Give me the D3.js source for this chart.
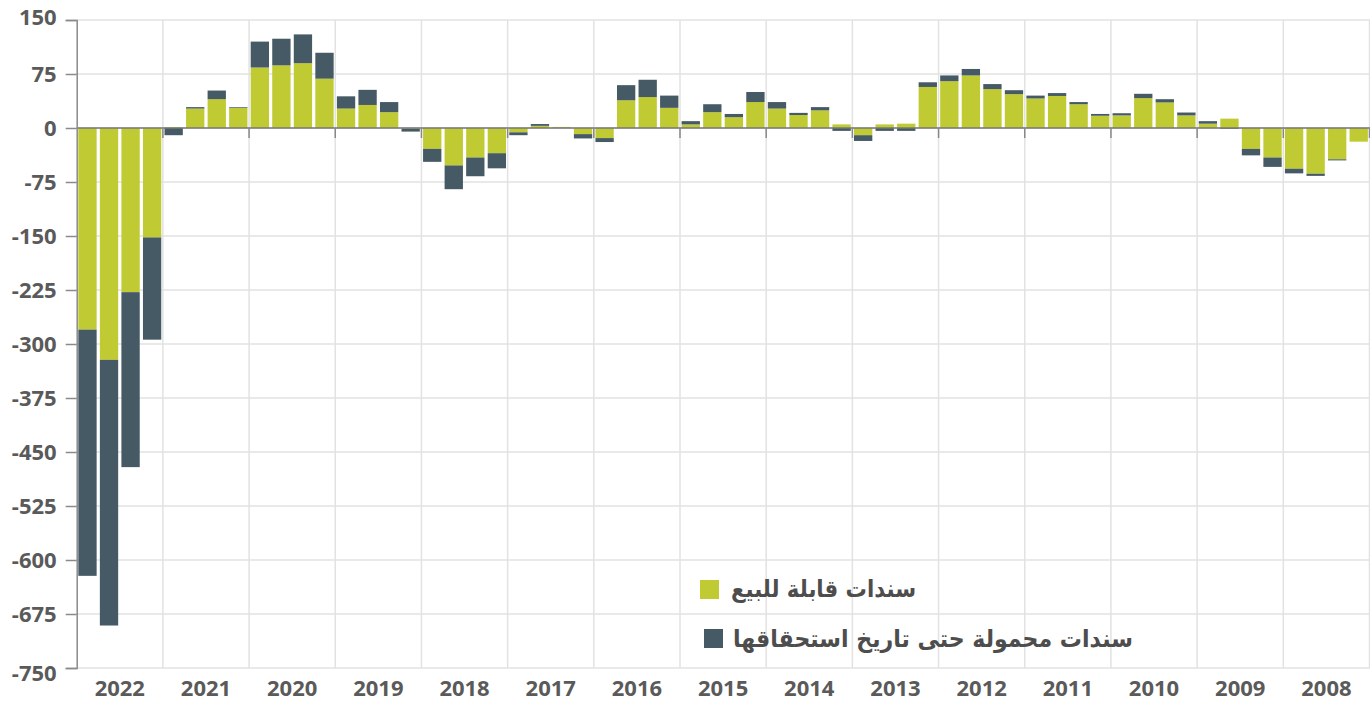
<!DOCTYPE html>
<html>
<head>
<meta charset="utf-8">
<script src="https://cdn.jsdelivr.net/npm/d3@7/dist/d3.min.js"></script>
<style>
  html, body { margin: 0; padding: 0; background: #fff; }
  svg { display: block; }
</style>
</head>
<body>
<svg id="chart" width="1370" height="702"></svg>
<script>
// ---- data ----
const years = ["2022","2021","2020","2019","2018","2017","2016","2015","2014","2013","2012","2011","2010","2009","2008"];
const quarters = ["a","b","c","d"];
// available for sale (green), left to right
const afs = [-280,-322,-228,-152, 1,27,40,28, 84,87,90,68.5, 27,32,22,-1,
             -29,-52,-41,-35, -6,3,1.5,-8.5, -14,38.5,43,28, 5,22,15,36,
             27,18,24.5,5, -10,5,6,57, 65,73,54,47, 41,44.5,33,17,
             17.5,41.5,35.5,17.5, 6,13,-29,-41, -56.5,-63.5,-43.5,-19];
// held to maturity (dark), left to right
const htm = [-342,-369,-243,-142, -10,2,12,1, 36,37,40,36, 17,21,14,-4,
             -18,-33,-26,-21, -4,2.5,0,-6, -5.5,21,24,17, 4.5,11,4.5,14,
             9,3,4.5,-4, -8,-4,-4,6.5, 8,9,7,5.5, 4,4,3,2.5,
             3,6,4.5,4, 3.5,-1,-9,-13, -6.5,-3,-1.5,0];
const yTicks = [150,75,0,-75,-150,-225,-300,-375,-450,-525,-600,-675,-750];
const yTickLabels = ["150","75","0","-75","-150","-225","-300","-375","-450","-525","-600","-675","-750"];
const seriesNames = ["سندات قابلة للبيع", "سندات محمولة حتى تاريخ استحقاقها"];
const colors = ["#c0ca33", "#455a64"];

(function () {
// ---- layout ----
const svg = d3.select("#chart");
const mLeft = 76.7, mRight = 1369.5, mTop = 20, mBottom = 668;

const periods = [];
years.forEach(yr => quarters.forEach(q => periods.push(yr + q)));
const rows = periods.map((p, i) => ({ period: p, afs: afs[i], htm: htm[i] }));

const x = d3.scaleBand().domain(periods).range([mLeft, mRight]).paddingInner(0.15).paddingOuter(0.075);
const xYear = d3.scaleBand().domain(years).range([mLeft, mRight]);
const y = d3.scaleLinear().domain([-750, 150]).range([mBottom, mTop]);

// grid
const g = svg.append("g");
g.selectAll("line.hgrid").data(yTicks).join("line")
  .attr("x1", mLeft).attr("x2", 1370)
  .attr("y1", d => y(d)).attr("y2", d => y(d))
  .attr("stroke", "#e2e2e2").attr("stroke-width", 1.5);

const bounds = years.map(yr => xYear(yr) + xYear.bandwidth());
g.selectAll("line.vgrid").data(bounds).join("line")
  .attr("x1", d => d).attr("x2", d => d)
  .attr("y1", mTop).attr("y2", mBottom)
  .attr("stroke", "#e2e2e2").attr("stroke-width", 1.5);

// bars
const stack = d3.stack().keys(["afs", "htm"]).offset(d3.stackOffsetDiverging);
const stacked = stack(rows);
svg.append("g").selectAll("g").data(stacked).join("g")
  .attr("fill", (d, i) => colors[i])
  .selectAll("rect").data(d => d).join("rect")
  .attr("x", d => x(d.data.period))
  .attr("width", x.bandwidth())
  .attr("y", d => y(Math.max(d[0], d[1])))
  .attr("height", d => Math.abs(y(d[0]) - y(d[1])));

// zero line and year ticks
svg.append("line").attr("x1", mLeft).attr("x2", 1370)
  .attr("y1", y(0)).attr("y2", y(0))
  .attr("stroke", "#777").attr("stroke-width", 1.5);
svg.append("g").selectAll("line").data(bounds).join("line")
  .attr("x1", d => d).attr("x2", d => d)
  .attr("y1", y(0)).attr("y2", y(0) + 10)
  .attr("stroke", "#888").attr("stroke-width", 1.5);

// y axis
const yAxis = d3.axisLeft(y).tickValues(yTicks).tickSize(11).tickPadding(9)
  .tickFormat((d, i) => yTickLabels[i]);
const ya = svg.append("g").attr("transform", `translate(${mLeft},0)`).call(yAxis);
ya.select(".domain").attr("stroke", "#8a8a8a").attr("stroke-width", 1.5);
ya.selectAll(".tick line").attr("stroke", "#8a8a8a").attr("stroke-width", 1.5);
ya.selectAll(".tick text")
  .attr("font-family", "'Open Sans', sans-serif").attr("font-weight", 700)
  .attr("font-size", 22).attr("fill", "#5a5a5a")
  .attr("dy", d => d === 150 ? "0.2em" : d === -750 ? "0.55em" : "0.32em");

// x labels
svg.append("g").selectAll("text").data(years).join("text")
  .attr("x", d => xYear(d) + xYear.bandwidth() / 2)
  .attr("y", 695.5)
  .attr("text-anchor", "middle")
  .attr("font-family", "'Open Sans', sans-serif").attr("font-weight", 700)
  .attr("font-size", 22).attr("fill", "#5a5a5a")
  .text(d => d);

// legend
const legend = svg.append("g");
const legItems = [
  { name: seriesNames[0], color: colors[0], sx: 700, sy: 580, tx: 731, tw: 185, ty: 597 },
  { name: seriesNames[1], color: colors[1], sx: 704, sy: 629, tx: 733, tw: 400, ty: 647 }
];
legItems.forEach(it => {
  legend.append("rect").attr("x", it.sx).attr("y", it.sy).attr("width", 19).attr("height", 19).attr("fill", it.color);
  legend.append("text").attr("x", it.tx).attr("y", it.ty)
    .attr("font-family", "'DejaVu Sans', sans-serif").attr("font-weight", 700)
    .attr("font-size", 24).attr("fill", "#4d4d4d")
    .attr("textLength", it.tw).attr("lengthAdjust", "spacingAndGlyphs")
    .text(it.name);
});
})();
</script>
</body>
</html>
